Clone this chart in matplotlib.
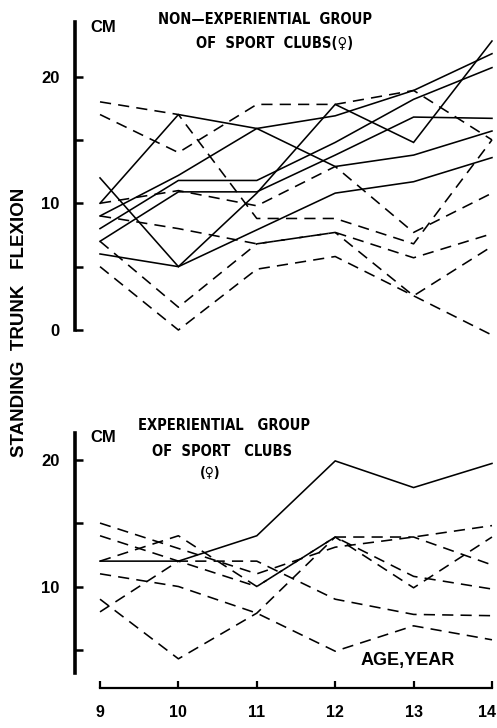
import matplotlib
matplotlib.use("Agg")
import matplotlib.pyplot as plt
from matplotlib.transforms import ScaledTranslation

ages = [9, 10, 11, 12, 13, 14]

# Non-experiential group (top panel)
top_solid = [
    [12, 5, 10.8, 17.8, 14.8, 22.8],
    [10, 17, 15.9, 12.9, 13.8, 15.7],
    [9, 12.2, 15.9, 16.9, 18.9, 21.8],
    [8, 11.8, 11.8, 14.8, 18.2, 20.7],
    [7, 10.9, 10.9, 13.8, 16.8, 16.7],
    [6, 5, 7.9, 10.8, 11.7, 13.6],
]
top_dashed = [
    [18, 17, 8.8, 8.8, 6.8, 15.0],
    [17, 14, 17.8, 17.8, 18.9, 15.0],
    [10, 11, 9.8, 12.9, 7.7, 10.8],
    [9, 8, 6.8, 7.7, 5.7, 7.6],
    [7, 1.8, 6.8, 7.7, 2.7, 6.6],
    [5, 0, 4.8, 5.8, 2.7, -0.4],
]

# Experiential group (bottom panel)
bot_solid = [
    [12, 12, 14.0, 19.9, 17.8, 19.7],
]
bot_dashed = [
    [15, 13.0, 11.0, 13.1, 13.9, 14.8],
    [14, 12.0, 10.0, 13.9, 13.9, 11.7],
    [12, 14.0, 10.0, 13.9, 10.8, 9.8],
    [11, 10.0, 7.9, 4.9, 6.9, 5.8],
    [8, 12.0, 12.0, 9.0, 7.8, 7.7],
    [9, 4.3, 7.9, 13.9, 9.9, 13.9],
]

top_yticks = [0, 5, 10, 15, 20]
top_ylabels = ["0", "", "10", "", "20"]
bot_yticks = [5, 10, 15, 20]
bot_ylabels = ["", "10", "", "20"]
xtick_labels = ["9", "10", "11", "12", "13", "14"]

W, H = 497, 728
fig = plt.figure(figsize=(W / 100, H / 100), dpi=100)

LBL = dict(family="Liberation Sans", weight="bold")
TTL = dict(family="DejaVu Sans", weight="bold", fontstretch="condensed")

def make_ax(top_px, bottom_px):
    left_px = 75
    ax = fig.add_axes([left_px / W, (H - bottom_px) / H, (W - left_px) / W,
                       (bottom_px - top_px) / H])
    ax.set_xlim(8.681, 14.064)
    ax.patch.set_alpha(0)
    for s in ["top", "right"]:
        ax.spines[s].set_visible(False)
    ax.spines["left"].set_linewidth(2.6)
    ax.tick_params(axis="y", direction="in", length=5.5, width=1.8, pad=11)
    return ax

def draw(ax, solids, dashes):
    for s in solids:
        ax.plot(ages, s, color="black", lw=1.15, clip_on=False,
                solid_joinstyle="miter")
    for d in dashes:
        ax.plot(ages, d, color="black", lw=1.15, linestyle=(0, (7, 4.5)),
                clip_on=False)

# ---- top panel
ax1 = make_ax(22, 337)
ax1.set_ylim(-0.55, 24.3)
ax1.spines["left"].set_bounds(0, 24.3)
ax1.spines["bottom"].set_visible(False)
ax1.set_xticks([])
ax1.set_yticks(top_yticks)
ax1.set_yticklabels(top_ylabels, fontsize=12, **LBL)
draw(ax1, top_solid, top_dashed)

# ---- bottom panel
ax2 = make_ax(433, 688)
ax2.set_ylim(2.0, 22.1)
ax2.spines["left"].set_bounds(3.2, 22.1)
ax2.spines["bottom"].set_bounds(9, 14)
ax2.spines["bottom"].set_linewidth(1.6)
ax2.set_yticks(bot_yticks)
ax2.set_yticklabels(bot_ylabels, fontsize=12, **LBL)
ax2.set_xticks(ages)
ax2.set_xticklabels(xtick_labels, fontsize=11.5, **LBL)
ax2.tick_params(axis="x", direction="in", length=5, width=1.6, pad=12)
last = ax2.get_xticklabels()[-1]
last.set_transform(last.get_transform() +
                   ScaledTranslation(-5 / 100, 0, fig.dpi_scale_trans))

# ---- texts
fig.text(90 / W, 1 - 28 / H, "CM", fontsize=12, ha="left", va="center", **LBL)
fig.text(265 / W, 1 - 20 / H, "NON—EXPERIENTIAL  GROUP", fontsize=10.5,
         ha="center", va="center", **TTL)
fig.text(275 / W, 1 - 44 / H, "OF  SPORT  CLUBS(♀)", fontsize=10.5,
         ha="center", va="center", **TTL)

fig.text(90 / W, 1 - 438 / H, "CM", fontsize=12, ha="left", va="center", **LBL)
fig.text(224 / W, 1 - 426 / H, "EXPERIENTIAL   GROUP", fontsize=10.5,
         ha="center", va="center", **TTL)
fig.text(222 / W, 1 - 452 / H, "OF  SPORT   CLUBS", fontsize=10.5,
         ha="center", va="center", **TTL)
fig.text(210 / W, 1 - 473 / H, "(♀)", fontsize=10, ha="center",
         va="center", **TTL)
fig.text(408 / W, 1 - 660 / H, "AGE,YEAR", fontsize=13, ha="center",
         va="center", **LBL)

fig.text(20 / W, 1 - 322 / H, "STANDING  TRUNK   FLEXION", fontsize=13.5,
         rotation=90, ha="center", va="center", **LBL)

draw(ax2, bot_solid, bot_dashed)

fig.savefig("out.png", dpi=100)
